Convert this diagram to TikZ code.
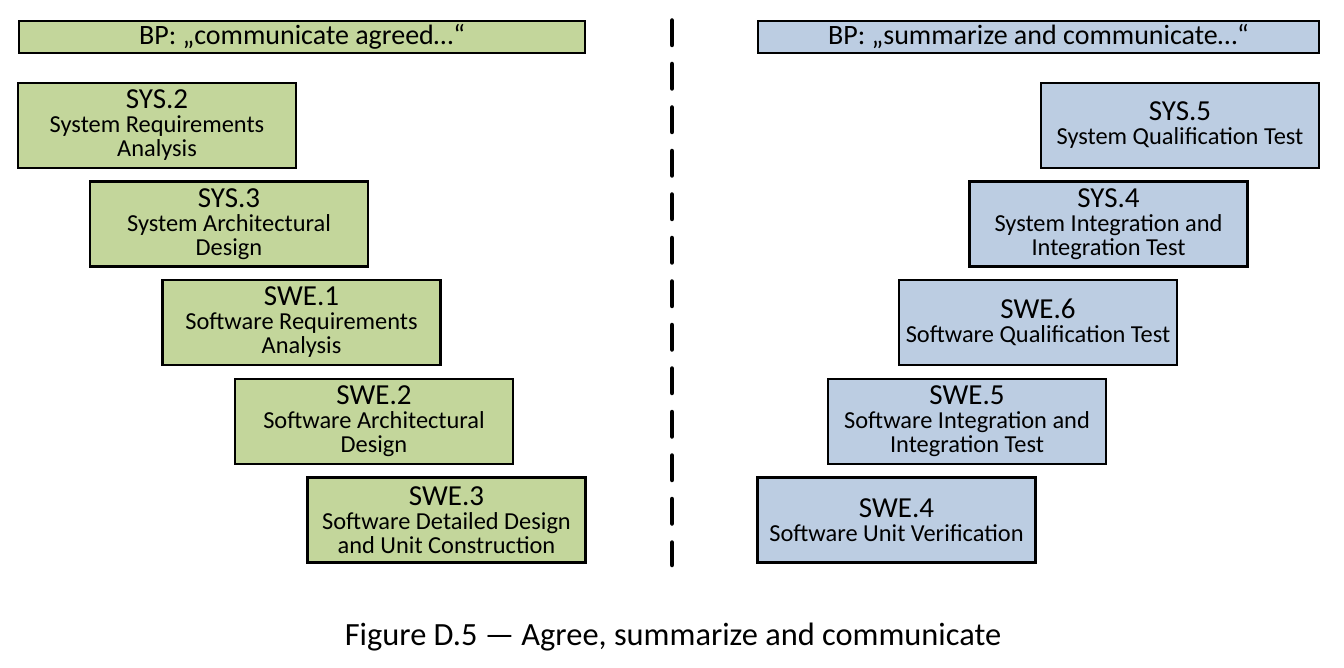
\documentclass[tikz,border=0pt]{standalone}
\usepackage{fontspec}
\setmainfont{Carlito}
\definecolor{agreegreen}{HTML}{C3D69B}
\definecolor{summblue}{HTML}{BCCDE2}

\begin{document}
\begin{tikzpicture}[x=1pt,y=-1pt,
    proc/.style={draw=black,line width=2.5pt,minimum width=278pt,minimum height=85pt,
      inner sep=0pt,align=center,font=\fontsize{24.4}{24}\selectfont},
    bp/.style={draw=black,line width=2.5pt,minimum height=32pt,inner sep=0pt,
      font=\fontsize{28}{28}\selectfont}]
      \useasboundingbox (0,0) rectangle (1344,668) ;
      % left side: agree
      \node[bp,fill=agreegreen,minimum width=566pt] (bpl) at (302,37) {BP: „communicate agreed…“} ;
      \node[proc,fill=agreegreen] (sys2) at (157,125.5) %
      {{\fontsize{29}{24}\selectfont SYS.2}\\System Requirements\\Analysis} ;
      \node[proc,fill=agreegreen] (sys3) at (229,224) %
      {{\fontsize{29}{24}\selectfont SYS.3}\\System Architectural\\Design} ;
      \node[proc,fill=agreegreen] (swe1) at (301.5,322.5) %
      {{\fontsize{29}{24}\selectfont SWE.1}\\Software Requirements\\Analysis} ;
      \node[proc,fill=agreegreen] (swe2) at (374,421.5) %
      {{\fontsize{29}{24}\selectfont SWE.2}\\Software Architectural\\Design} ;
      \node[proc,fill=agreegreen] (swe3) at (446.5,520) %
      {{\fontsize{29}{24}\selectfont SWE.3}\\Software Detailed Design\\and Unit Construction} ;
      % right side: summarize
      \node[bp,fill=summblue,minimum width=561pt] (bpr) at (1038.5,37) {BP: „summarize and communicate…“} ;
      \node[proc,fill=summblue] (sys5) at (1180,125.5) %
      {{\fontsize{29}{27}\selectfont SYS.5}\\System Qualification Test} ;
      \node[proc,fill=summblue] (sys4) at (1108.5,224) %
      {{\fontsize{29}{24}\selectfont SYS.4}\\System Integration and\\Integration Test} ;
      \node[proc,fill=summblue] (swe6) at (1038,322.5) %
      {{\fontsize{29}{27}\selectfont SWE.6}\\Software Qualification Test} ;
      \node[proc,fill=summblue] (swe5) at (967,421.5) %
      {{\fontsize{29}{24}\selectfont SWE.5}\\Software Integration and\\Integration Test} ;
      \node[proc,fill=summblue] (swe4) at (896.5,520) %
      {{\fontsize{29}{27}\selectfont SWE.4}\\Software Unit Verification} ;
      % separator
      \coordinate (septop) at (672,20.5) ;
      \coordinate (sepbot) at (672,565) ;
      \draw[line width=4.5pt,line cap=round,dash pattern=on 24.5pt off 19pt] (septop)--(sepbot) ;
      \node[font=\fontsize{32.4}{32}\selectfont] (caption) at (673,637) %
      {Figure D.5 — Agree, summarize and communicate} ;
    \end{tikzpicture}
\end{document}
